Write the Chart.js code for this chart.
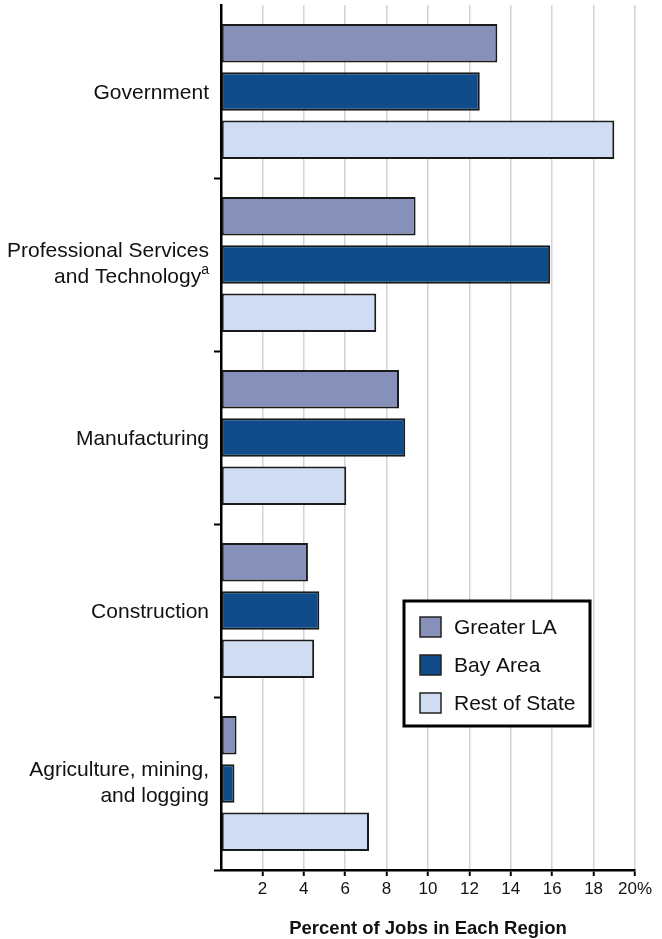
<!DOCTYPE html>
<html>
<head>
<meta charset="utf-8">
<title>Percent of Jobs in Each Region</title>
<script src="https://cdn.jsdelivr.net/npm/chart.js@4.4.1/dist/chart.umd.min.js"></script>
<style>
  html, body { margin: 0; padding: 0; background: #fff; }
  #wrap { position: relative; width: 662px; height: 939px; }
</style>
</head>
<body>
<div id="wrap"><canvas id="jobsChart"></canvas></div>
<script>
'use strict';

/* Data (percent of jobs). */
var categories = [
    ['Government'],
    ['Professional Services', 'and Technology'],
    ['Manufacturing'],
    ['Construction'],
    ['Agriculture, mining,', 'and logging'],
];
var categoryNotes = ['', 'a', '', '', ''];   // superscript footnote marks

var seriesNames  = ['Greater LA', 'Bay Area', 'Rest of State'];
var greaterLA    = [13.35, 9.4, 8.6, 4.2, 0.75];
var bayArea      = [12.5, 15.9, 8.9, 4.75, 0.65];
var restOfState  = [19.0, 7.5, 6.05, 4.5, 7.15];

var xTicks       = [0, 2, 4, 6, 8, 10, 12, 14, 16, 18, 20];
var axisTitle    = 'Percent of Jobs in Each Region';

var FONT = '"Liberation Sans", Arial, Helvetica, sans-serif';
var colors = ['#8790b8', '#0f4c89', '#d0dcf1'];

(function () {
    var canvas = document.getElementById('jobsChart');
    if (typeof window.Chart === 'undefined' || !canvas) return;

    /* category labels on the left, with the superscript note */
    var categoryLabels = {
        id: 'categoryLabels',
        afterDraw: function (chart) {
            var ctx = chart.ctx, y = chart.scales.y;
            var right = y.right - 12, lh = 26;
            ctx.save();
            ctx.fillStyle = '#111';
            ctx.textBaseline = 'middle';
            ctx.textAlign = 'right';
            categories.forEach(function (lines, i) {
                var cy = y.getPixelForValue(i) + (lines.length === 1 ? 2 : 0);
                var y0 = cy - (lines.length - 1) * lh / 2;
                lines.forEach(function (txt, k) {
                    var ly = y0 + k * lh;
                    var note = (k === lines.length - 1) ? categoryNotes[i] : '';
                    var x = right;
                    if (note) {
                        ctx.font = '14px ' + FONT;
                        ctx.fillText(note, x, ly - 7);
                        x -= ctx.measureText(note).width;
                    }
                    ctx.font = '21px ' + FONT;
                    ctx.fillText(txt, x, ly);
                });
            });
            ctx.restore();
        }
    };

    /* boxed legend floating inside the plot */
    var boxLegend = {
        id: 'boxLegend',
        afterDraw: function (chart) {
            var ctx = chart.ctx;
            var bx = 404, by = 601, bw = 186, bh = 125;
            ctx.save();
            ctx.fillStyle = '#fff';
            ctx.fillRect(bx, by, bw, bh);
            ctx.lineWidth = 3;
            ctx.strokeStyle = '#000';
            ctx.strokeRect(bx, by, bw, bh);
            ctx.font = '21px ' + FONT;
            ctx.textBaseline = 'middle';
            ctx.textAlign = 'left';
            chart.data.datasets.forEach(function (ds, i) {
                var cy = by + 26 + i * 38;
                ctx.fillStyle = ds.backgroundColor;
                ctx.fillRect(bx + 16, cy - 10, 21, 20);
                ctx.lineWidth = 1.5;
                ctx.strokeStyle = '#222';
                ctx.strokeRect(bx + 16, cy - 10, 21, 20);
                ctx.fillStyle = '#111';
                ctx.fillText(ds.label, bx + 50, cy + 1);
            });
            ctx.restore();
        }
    };

    function dataset(i, values) {
        return {
            label: seriesNames[i],
            data: values,
            backgroundColor: colors[i],
            borderColor: '#1a1a1a',
            borderWidth: 2,
            borderSkipped: false,
            categoryPercentage: 0.838,
            barPercentage: 0.795,
        };
    }

    new Chart(canvas.getContext('2d'), {
        type: 'bar',
        data: {
            labels: categories.map(function (l) { return l.join(' '); }),
            datasets: [
                dataset(0, greaterLA),
                dataset(1, bayArea),
                dataset(2, restOfState),
            ],
        },
        plugins: [categoryLabels, boxLegend],
        options: {
            indexAxis: 'y',
            responsive: true,
            maintainAspectRatio: false,
            animation: false,
            layout: { padding: { top: 5, right: 27, left: 0, bottom: 0 } },
            plugins: {
                legend: { display: false },
                tooltip: { enabled: false },
            },
            scales: {
                x: {
                    min: 0,
                    max: 20,
                    afterBuildTicks: function (s) {
                        s.ticks = xTicks.map(function (v) { return { value: v }; });
                    },
                    afterFit: function (s) { s.height = 69; },
                    border: { display: true, color: '#000', width: 2.5 },
                    grid: {
                        color: function (c) { return c.tick && c.tick.value === 0 ? 'rgba(0,0,0,0)' : '#d3d3d3'; },
                        lineWidth: 1.5,
                        drawTicks: true,
                        tickLength: 6,
                        tickWidth: 2,
                        tickColor: function (c) { return c.tick && c.tick.value === 0 ? 'rgba(0,0,0,0)' : '#000'; },
                    },
                    ticks: {
                        autoSkip: false,
                        maxRotation: 0,
                        padding: 3,
                        color: '#111',
                        font: { family: FONT, size: 17 },
                        callback: function (v) {
                            if (v === 0) return '';
                            return v === 20 ? '20%' : String(v);
                        },
                    },
                    title: {
                        display: true,
                        text: axisTitle,
                        color: '#111',
                        padding: { top: 0, bottom: -1 },
                        font: { family: FONT, size: 18.5, weight: 'bold' },
                    },
                },
                y: {
                    afterFit: function (s) { s.width = 221; },
                    border: { display: true, color: '#000', width: 2.5 },
                    grid: {
                        offset: true,
                        drawOnChartArea: false,
                        drawTicks: true,
                        tickLength: 7,
                        tickWidth: 2,
                        tickColor: function (c) { return c.index === 0 ? 'rgba(0,0,0,0)' : '#000'; },
                    },
                    ticks: { display: false },
                },
            },
        },
    });
})();
</script>
</body>
</html>
